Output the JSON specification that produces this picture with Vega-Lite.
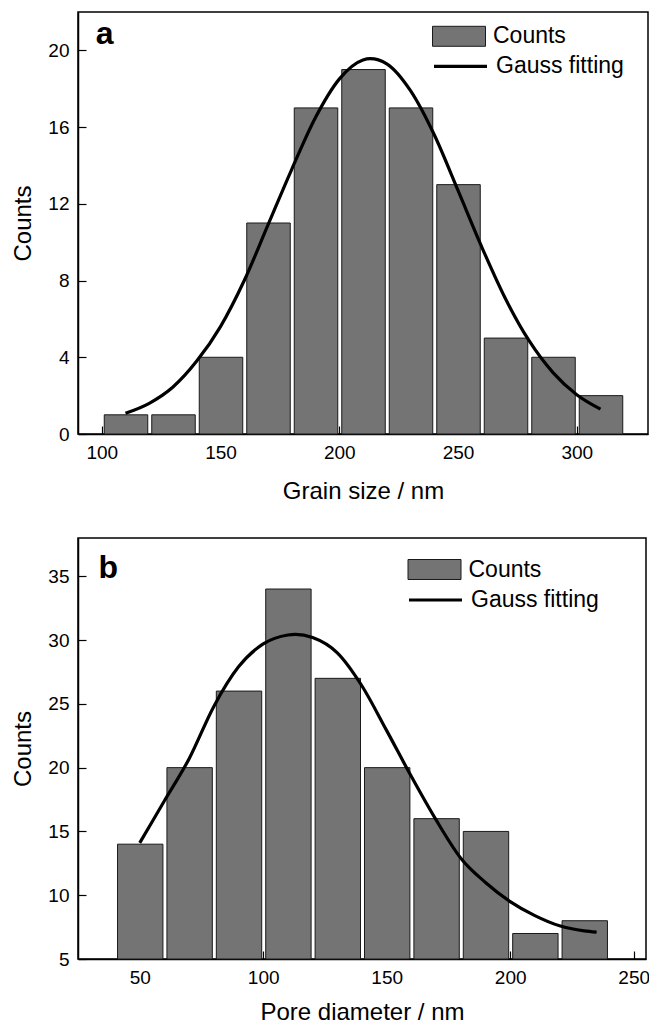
{
  "$schema": "https://vega.github.io/schema/vega-lite/v6.json",
  "background": "white",
  "padding": {"left": 11, "top": 8, "right": 2, "bottom": 0},
  "spacing": 33,
  "config": {
    "font": "Liberation Sans",
    "view": {"stroke": "black", "strokeWidth": 1.5},
    "axis": {
      "domainColor": "black", "domainWidth": 1.5,
      "tickColor": "black", "tickWidth": 1.2, "tickSize": -8,
      "labelFontSize": 19, "labelColor": "black", "labelFont": "Liberation Sans",
      "titleFont": "Liberation Sans", "titleFontSize": 24, "titleFontWeight": "normal", "titleColor": "black",
      "grid": false, "zindex": 1
    },
    "legend": {"labelFont": "Liberation Sans", "labelFontSize": 23, "labelColor": "black", "padding": 0}
  },
  "resolve": {"scale": {"x": "independent", "y": "independent", "fill": "independent", "stroke": "independent"}},
  "datasets": {
    "barsA": [
      {"start": 100, "end": 120, "count": 1},
      {"start": 120, "end": 140, "count": 1},
      {"start": 140, "end": 160, "count": 4},
      {"start": 160, "end": 180, "count": 11},
      {"start": 180, "end": 200, "count": 17},
      {"start": 200, "end": 220, "count": 19},
      {"start": 220, "end": 240, "count": 17},
      {"start": 240, "end": 260, "count": 13},
      {"start": 260, "end": 280, "count": 5},
      {"start": 280, "end": 300, "count": 4},
      {"start": 300, "end": 320, "count": 2}
    ],
    "curveA": [
      {"x": 110, "y": 1.08}, {"x": 120, "y": 1.6}, {"x": 130, "y": 2.45}, {"x": 140, "y": 3.8},
      {"x": 150, "y": 5.6}, {"x": 160, "y": 8.0}, {"x": 170, "y": 10.9}, {"x": 180, "y": 13.8},
      {"x": 190, "y": 16.5}, {"x": 200, "y": 18.5}, {"x": 210, "y": 19.5}, {"x": 213, "y": 19.57},
      {"x": 220, "y": 19.3}, {"x": 230, "y": 17.9}, {"x": 240, "y": 15.6}, {"x": 250, "y": 12.7},
      {"x": 260, "y": 9.75}, {"x": 270, "y": 7.05}, {"x": 280, "y": 4.85}, {"x": 290, "y": 3.2},
      {"x": 300, "y": 2.05}, {"x": 310, "y": 1.3}
    ],
    "barsB": [
      {"start": 40, "end": 60, "count": 14},
      {"start": 60, "end": 80, "count": 20},
      {"start": 80, "end": 100, "count": 26},
      {"start": 100, "end": 120, "count": 34},
      {"start": 120, "end": 140, "count": 27},
      {"start": 140, "end": 160, "count": 20},
      {"start": 160, "end": 180, "count": 16},
      {"start": 180, "end": 200, "count": 15},
      {"start": 200, "end": 220, "count": 7},
      {"start": 220, "end": 240, "count": 8}
    ],
    "curveB": [
      {"x": 50, "y": 14.1}, {"x": 60, "y": 17.4}, {"x": 70, "y": 20.7}, {"x": 80, "y": 24.8},
      {"x": 90, "y": 27.9}, {"x": 100, "y": 29.7}, {"x": 110, "y": 30.4}, {"x": 113, "y": 30.45},
      {"x": 120, "y": 30.2}, {"x": 130, "y": 29.0}, {"x": 140, "y": 26.4}, {"x": 150, "y": 22.9},
      {"x": 160, "y": 19.3}, {"x": 170, "y": 15.9}, {"x": 180, "y": 12.9}, {"x": 190, "y": 11.0},
      {"x": 200, "y": 9.5}, {"x": 210, "y": 8.4}, {"x": 220, "y": 7.6}, {"x": 230, "y": 7.2},
      {"x": 235, "y": 7.1}
    ],
    "labelA": [{"label": "a"}],
    "labelB": [{"label": "b"}]
  },
  "vconcat": [
    {
      "width": 570,
      "height": 422,
      "layer": [
        {
          "data": {"name": "barsA"},
          "mark": {"type": "bar", "stroke": "#1a1a1a", "strokeWidth": 1, "binSpacing": 4},
          "encoding": {
            "x": {"field": "start", "type": "quantitative", "bin": {"binned": true},
                  "scale": {"domain": [90, 330], "nice": false},
                  "axis": {"title": "Grain size / nm", "values": [100, 150, 200, 250, 300], "labelPadding": 17, "titlePadding": 17}},
            "x2": {"field": "end"},
            "y": {"field": "count", "type": "quantitative",
                  "scale": {"domain": [0, 22], "nice": false},
                  "axis": {"title": "Counts", "values": [0, 4, 8, 12, 16, 20], "labelPadding": 17, "titlePadding": 12}},
            "fill": {"datum": "Counts", "type": "nominal", "scale": {"range": ["#747474"]},
                     "legend": {"title": null, "orient": "none", "legendX": 354, "legendY": -2.7,
                                "symbolType": "M-1,-0.377H1V0.377H-1Z", "symbolSize": 2809,
                                "symbolStrokeColor": "#1a1a1a", "symbolStrokeWidth": 1, "labelOffset": 7}}
          }
        },
        {
          "data": {"name": "curveA"},
          "mark": {"type": "line", "strokeWidth": 3.2, "interpolate": "monotone"},
          "encoding": {
            "x": {"field": "x", "type": "quantitative", "axis": {"title": "Grain size / nm"}},
            "y": {"field": "y", "type": "quantitative", "axis": {"title": "Counts"}},
            "stroke": {"datum": "Gauss fitting", "type": "nominal", "scale": {"range": ["black"]},
                       "legend": {"title": null, "orient": "none", "legendX": 354, "legendY": 25.8,
                                  "symbolType": "stroke", "symbolSize": 2809, "symbolStrokeWidth": 3.2, "labelOffset": 7}}
          }
        },
        {
          "data": {"name": "labelA"},
          "mark": {"type": "text", "fontSize": 32, "fontWeight": "bold", "align": "left", "baseline": "alphabetic", "color": "black"},
          "encoding": {
            "x": {"datum": 97.5, "axis": {"title": "Grain size / nm"}},
            "y": {"datum": 20.33, "axis": {"title": "Counts"}},
            "text": {"field": "label"}
          }
        }
      ]
    },
    {
      "width": 568,
      "height": 421,
      "layer": [
        {
          "data": {"name": "barsB"},
          "mark": {"type": "bar", "stroke": "#1a1a1a", "strokeWidth": 1, "binSpacing": 4},
          "encoding": {
            "x": {"field": "start", "type": "quantitative", "bin": {"binned": true},
                  "scale": {"domain": [25, 255], "nice": false},
                  "axis": {"title": "Pore diameter / nm", "values": [50, 100, 150, 200, 250], "labelPadding": 17, "titlePadding": 13}},
            "x2": {"field": "end"},
            "y": {"field": "count", "type": "quantitative",
                  "scale": {"domain": [5, 38], "nice": false, "zero": false},
                  "axis": {"title": "Counts", "values": [5, 10, 15, 20, 25, 30, 35], "labelPadding": 17, "titlePadding": 12}},
            "y2": {"datum": 5},
            "fill": {"datum": "Counts", "type": "nominal", "scale": {"range": ["#747474"]},
                     "legend": {"title": null, "orient": "none", "legendX": 329.5, "legendY": 4.5,
                                "symbolType": "M-1,-0.377H1V0.377H-1Z", "symbolSize": 2809,
                                "symbolStrokeColor": "#1a1a1a", "symbolStrokeWidth": 1, "labelOffset": 7}}
          }
        },
        {
          "data": {"name": "curveB"},
          "mark": {"type": "line", "strokeWidth": 3.2, "interpolate": "monotone"},
          "encoding": {
            "x": {"field": "x", "type": "quantitative", "axis": {"title": "Pore diameter / nm"}},
            "y": {"field": "y", "type": "quantitative", "axis": {"title": "Counts"}},
            "stroke": {"datum": "Gauss fitting", "type": "nominal", "scale": {"range": ["black"]},
                       "legend": {"title": null, "orient": "none", "legendX": 329, "legendY": 33.5,
                                  "symbolType": "stroke", "symbolSize": 2809, "symbolStrokeWidth": 3.2, "labelOffset": 7}}
          }
        },
        {
          "data": {"name": "labelB"},
          "mark": {"type": "text", "fontSize": 32, "fontWeight": "bold", "align": "left", "baseline": "alphabetic", "color": "black"},
          "encoding": {
            "x": {"datum": 33.3, "axis": {"title": "Pore diameter / nm"}},
            "y": {"datum": 34.9, "axis": {"title": "Counts"}},
            "text": {"field": "label"}
          }
        }
      ]
    }
  ]
}
